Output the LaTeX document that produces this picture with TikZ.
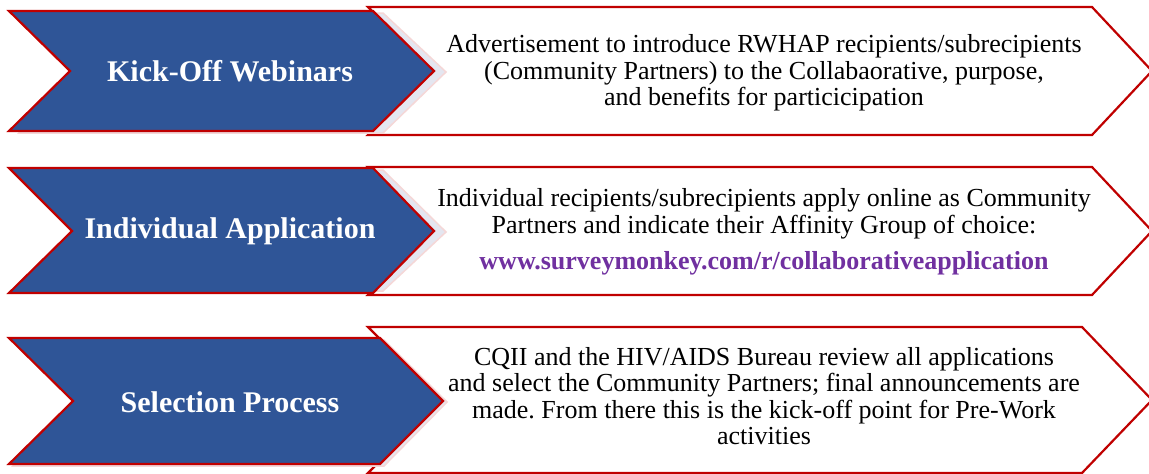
\documentclass[tikz,border=0pt]{standalone}
\usepackage{fontspec}
\setmainfont{Liberation Serif}
\frenchspacing
\definecolor{chevblue}{RGB}{47,85,151}
\definecolor{edgered}{RGB}{192,0,0}
\definecolor{urlpurple}{RGB}{112,48,160}
\definecolor{shadelav}{RGB}{228,230,240}
\definecolor{shadepink}{RGB}{245,215,215}
\tikzset{
  whitebox/.style={fill=white, draw=edgered, line width=2.2pt, line join=miter},
  bluebox/.style={fill=chevblue, draw=edgered, line width=2.2pt, line join=miter},
  shadowbox/.style={fill=shadelav, draw=shadepink, line width=1.5pt},
  steplabel/.style={text=white, font=\fontsize{30}{32}\selectfont\bfseries, inner sep=0pt},
  desclabel/.style={text=black, font=\fontsize{26}{26.5}\selectfont, align=center, inner sep=0pt}
}
\begin{document}
\begin{tikzpicture}[x=1pt,y=-1pt]
\useasboundingbox (0,0) rectangle (1149,474);
% Row 1
\draw[whitebox] (368,7) -- (1092,7) -- (1152,71) -- (1092,135) -- (368,135) -- (432,71) -- cycle;
\draw[shadowbox] (19,13) -- (383,13) -- (446,72) -- (383,133) -- (19,133) -- (80,72) -- cycle;
\draw[bluebox] (9,11) -- (373,11) -- (434,71) -- (373,131) -- (9,131) -- (70,71) -- cycle;
\node[steplabel] (s1) at (230,71) {Kick-Off Webinars};
\node[desclabel] (d1) at (764,73) {Advertisement to introduce RWHAP recipients/subrecipients\\(Community Partners) to the Collabaorative, purpose,\\and benefits for particicipation};
% Row 2
\draw[whitebox] (368,167) -- (1092,167) -- (1152,231) -- (1092,295) -- (368,295) -- (432,231) -- cycle;
\draw[shadowbox] (19,170) -- (383,170) -- (446,232) -- (383,291) -- (19,291) -- (82,232) -- cycle;
\draw[bluebox] (9,168) -- (373,168) -- (434,231) -- (373,293) -- (9,293) -- (72,231) -- cycle;
\node[steplabel] (s2) at (230,231) {Individual Application};
\node[desclabel] (d2) at (764,232) {Individual recipients/subrecipients apply online as Community\\Partners and indicate their Affinity Group of choice:\\[10pt]{\bfseries\color{urlpurple}www.surveymonkey.com/r/collaborativeapplication}};
% Row 3
\draw[whitebox] (368,327) -- (1082,327) -- (1152,400) -- (1082,473) -- (368,473) -- (441,400) -- cycle;
\draw[shadowbox] (13,340) -- (384,340) -- (447,402) -- (384,466) -- (13,466) -- (77,402) -- cycle;
\draw[bluebox] (9,338) -- (380,338) -- (443,401) -- (380,464) -- (9,464) -- (73,401) -- cycle;
\node[steplabel] (s3) at (230,402) {Selection Process};
\node[desclabel] (d3) at (764,396) {CQII and the HIV/AIDS Bureau review all applications\\and select the Community Partners; final announcements are\\made. From there this is the kick-off point for Pre-Work\\activities};
\end{tikzpicture}
\end{document}
